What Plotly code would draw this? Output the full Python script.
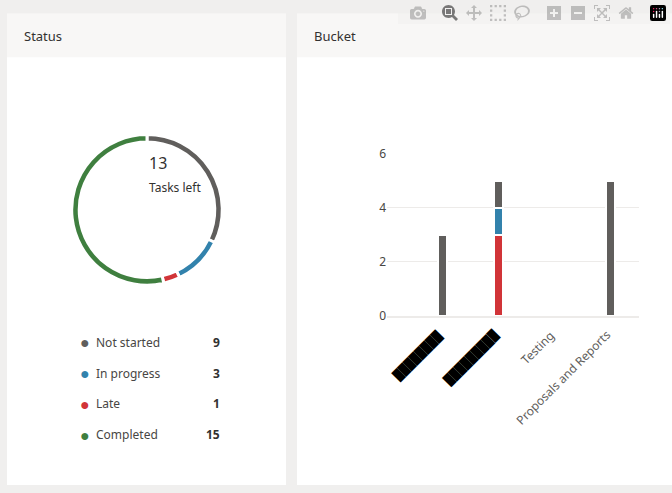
import plotly.graph_objects as go

# status donut
status_labels = ["Not started", "In progress", "Late", "Completed"]
status_counts = [9, 3, 1, 15]
status_colors = ["#605e5c", "#3282ac", "#d13438", "#3f7f3f"]
tasks_left = 13

# bucket bars
buckets = ["b1", "b2", "Testing", "Proposals and Reports"]
bucket_text = ["\u2588\u2588\u2588\u2588\u2588\u2588\u2588\u2588", "\u2588\u2588\u2588\u2588\u2588\u2588\u2588\u2588\u2588",
               "Testing", "Proposals and Reports"]
bucket_late = [0, 3, 0, 0]
bucket_progress = [0, 1, 0, 0]
bucket_notstarted = [3, 1, 0, 5]

W, H = 672, 493
def px_x(v): return v / W
def px_y(v): return 1 - v / H

fig = go.Figure()

fig.add_trace(go.Pie(
    labels=status_labels, values=status_counts, hole=0.9, sort=False,
    direction="clockwise", rotation=0,
    marker=dict(colors=status_colors, line=dict(color="white", width=3)),
    textinfo="none", showlegend=False,
    domain=dict(x=[px_x(69), px_x(225)], y=[px_y(286), px_y(130)]),
))

for name, vals, col in [("Late", bucket_late, "#d13438"),
                        ("In progress", bucket_progress, "#3282ac"),
                        ("Not started", bucket_notstarted, "#605e5c")]:
    fig.add_trace(go.Bar(x=buckets, y=vals, name=name, width=0.16,
                         marker=dict(color=col, line=dict(color="white", width=2)),
                         showlegend=False))

shapes = [
    dict(type="rect", xref="paper", yref="paper", x0=px_x(7), x1=px_x(286), y0=0, y1=px_y(5),
         fillcolor="white", line=dict(width=0), layer="below"),
    dict(type="rect", xref="paper", yref="paper", x0=px_x(7), x1=px_x(286), y0=px_y(50), y1=px_y(5),
         fillcolor="#f8f7f6", line=dict(width=0), layer="below"),
    dict(type="rect", xref="paper", yref="paper", x0=px_x(297), x1=1, y0=0, y1=px_y(5),
         fillcolor="white", line=dict(width=0), layer="below"),
    dict(type="rect", xref="paper", yref="paper", x0=px_x(297), x1=1, y0=px_y(50), y1=px_y(5),
         fillcolor="#f8f7f6", line=dict(width=0), layer="below"),
]

ann = [
    dict(text="Status", x=px_x(22), y=px_y(28), font=dict(size=13, color="#323130"), xanchor="left"),
    dict(text="Bucket", x=px_x(312), y=px_y(28), font=dict(size=13, color="#323130"), xanchor="left"),
    dict(text=str(tasks_left), x=px_x(147), y=px_y(159), font=dict(size=16, color="#323130")),
    dict(text="Tasks left", x=px_x(147), y=px_y(185), font=dict(size=12, color="#323130")),
]
for i, (lab, cnt, col) in enumerate(zip(status_labels, status_counts, status_colors)):
    yy = px_y(345 + 32 * i)
    ann.append(dict(text="\u25cf", x=px_x(78), y=yy, font=dict(size=16, color=col)))
    ann.append(dict(text=lab, x=px_x(94), y=yy, xanchor="left", font=dict(size=12, color="#484644")))
    ann.append(dict(text="<b>%d</b>" % cnt, x=px_x(222), y=yy, xanchor="right", font=dict(size=12, color="#323130")))

for b, t in zip(buckets, bucket_text):
    redacted = t.startswith("\u2588")
    ann.append(dict(text=t, x=b, y=0, xref="x", yref="y", textangle=-45,
                    xanchor="right", yanchor="top", yshift=-8, xshift=6,
                    font=dict(size=12 if not redacted else 11, color="black" if redacted else "#605e5c")))

for a in ann:
    a.setdefault("xref", "paper")
    a.setdefault("yref", "paper")
    a.setdefault("yanchor", "middle")
    a["showarrow"] = False

fig.update_layout(
    width=W, height=H, margin=dict(l=0, r=0, t=0, b=0),
    paper_bgcolor="#f0efee", plot_bgcolor="white",
    font=dict(family="Noto Sans, sans-serif"),
    barmode="stack", bargap=0.5,
    shapes=shapes, annotations=ann,
    xaxis=dict(domain=[px_x(387), px_x(639)], showticklabels=False, showgrid=False,
               zeroline=False, showline=True, linecolor="#edebe9", linewidth=2),
    yaxis=dict(domain=[px_y(318), px_y(150)], range=[0, 6], dtick=2,
               gridcolor="#edebe9", zeroline=False,
               tickfont=dict(size=12, color="#484644")),
)

fig.write_html("out.html")

# drop the default page margin so the figure sits at the window's corner
with open("out.html", encoding="utf-8") as f:
    page = f.read()
page = page.replace("<head>", "<head><style>body{margin:0;overflow:hidden}</style>", 1)
with open("out.html", "w", encoding="utf-8") as f:
    f.write(page)
